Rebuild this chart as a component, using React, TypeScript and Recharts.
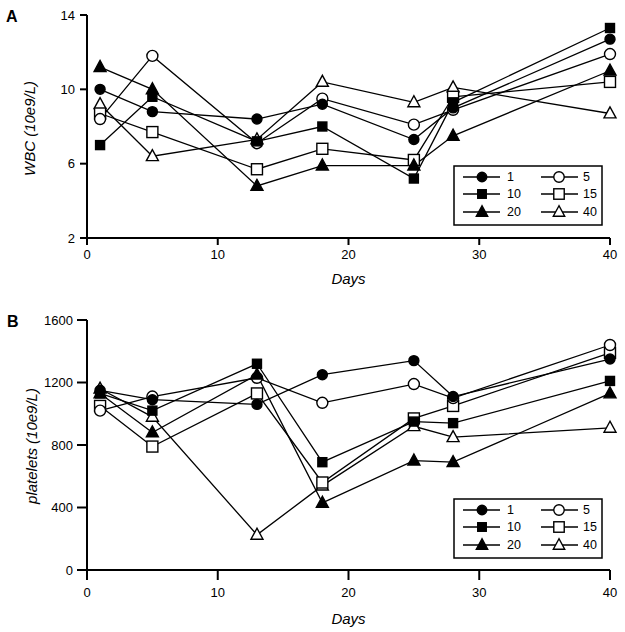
import React from 'react';
import { LineChart, Line, XAxis, YAxis } from 'recharts';

// ---- data ----
const days = [1, 5, 13, 18, 25, 28, 40];
const seriesNames = ['1', '5', '10', '15', '20', '40'];

const wbc1 = [10.0, 8.8, 8.4, 9.2, 7.3, 9.0, 12.7];
const wbc5 = [8.4, 11.8, 7.1, 9.5, 8.1, 8.9, 11.9];
const wbc10 = [7.0, 9.6, 7.2, 8.0, 5.2, 9.3, 13.3];
const wbc15 = [8.7, 7.7, 5.7, 6.8, 6.2, 9.6, 10.4];
const wbc20 = [11.2, 10.0, 4.8, 5.9, 5.9, 7.5, 11.0];
const wbc40 = [9.2, 6.4, 7.3, 10.4, 9.3, 10.1, 8.7];

const plt1 = [1150, 1090, 1060, 1250, 1340, 1110, 1350];
const plt5 = [1020, 1110, 1230, 1070, 1190, 1100, 1440];
const plt10 = [1130, 1020, 1320, 690, 950, 940, 1210];
const plt15 = [1050, 790, 1130, 560, 970, 1050, 1390];
const plt20 = [1130, 880, 1250, 430, 700, 690, 1130];
const plt40 = [1160, 980, 225, 540, 920, 850, 910];

const xTicks = [0, 10, 20, 30, 40];
const wbcTicks = [2, 6, 10, 14];
const pltTicks = [0, 400, 800, 1200, 1600];

const wbcRows = days.map((d, i) => ({
  day: d, s1: wbc1[i], s5: wbc5[i], s10: wbc10[i], s15: wbc15[i], s20: wbc20[i], s40: wbc40[i],
}));
const pltRows = days.map((d, i) => ({
  day: d, s1: plt1[i], s5: plt5[i], s10: plt10[i], s15: plt15[i], s20: plt20[i], s40: plt40[i],
}));

// ---- styles ----
const FONT = '"Liberation Sans", Arial, Helvetica, sans-serif';
const seriesStyle: Record<string, { shape: string; filled: boolean }> = {
  '1': { shape: 'circle', filled: true },
  '5': { shape: 'circle', filled: false },
  '10': { shape: 'square', filled: true },
  '15': { shape: 'square', filled: false },
  '20': { shape: 'triangle', filled: true },
  '40': { shape: 'triangle', filled: false },
};
const drawOrder = ['40', '15', '5', '20', '10', '1'];

function Marker({ cx, cy, shape, filled, scale = 1 }: any) {
  if (cx == null || cy == null) return null;
  const fill = filled ? '#000' : '#fff';
  const sw = 1.4;
  if (shape === 'circle') {
    const r = (filled ? 5 : 5.5) * scale;
    return <circle cx={cx} cy={cy} r={r} fill={fill} stroke="#000" strokeWidth={sw} />;
  }
  if (shape === 'square') {
    const s = (filled ? 9 : 11) * scale;
    return <rect x={cx - s / 2} y={cy - s / 2} width={s} height={s} fill={fill} stroke="#000" strokeWidth={sw} />;
  }
  const w = 12 * scale;
  const h = 11 * scale;
  const pts = `${cx},${cy - h * 0.6} ${cx - w / 2},${cy + h * 0.4} ${cx + w / 2},${cy + h * 0.4}`;
  return <polygon points={pts} fill={fill} stroke="#000" strokeWidth={sw} strokeLinejoin="miter" />;
}

function yLabel(text: string, x: number, dy: number) {
  return {
    content: (props: any) => {
      const vb = props.viewBox || {};
      const cy = vb.y + vb.height / 2 + dy;
      return (
        <text x={x} y={cy} transform={`rotate(-90 ${x} ${cy})`} textAnchor="middle"
          dominantBaseline="central" fontFamily={FONT} fontStyle="italic" fontSize={15} fill="#000"
          style={{ fill: '#000', stroke: 'none' }}>
          {text}
        </text>
      );
    },
  };
}

function xLabel(text: string, dy: number) {
  return {
    content: (props: any) => {
      const vb = props.viewBox || {};
      const cx = vb.x + vb.width / 2;
      return (
        <text x={cx} y={vb.y + dy} textAnchor="middle" dominantBaseline="central"
          fontFamily={FONT} fontStyle="italic" fontSize={15} fill="#000" style={{ fill: '#000' }}>
          {text}
        </text>
      );
    },
  };
}

function Panel({ rows, yDomain, yTicks, yText, top, height, marginTop, tickSize, xTickMargin, yTickMargin, xLabelDy, yLabelX, yLabelDy }: any) {
  return (
    <div style={{ position: 'absolute', left: 0, top }}>
      <LineChart width={625} height={height} data={rows} margin={{ top: marginTop, right: 15, bottom: 22, left: 0 }}>
        <XAxis dataKey="day" type="number" domain={[0, 40]} ticks={xTicks} height={40}
          tickSize={tickSize} tickMargin={xTickMargin}
          axisLine={{ stroke: '#000', strokeWidth: 2 }} tickLine={{ stroke: '#000', strokeWidth: 2 }}
          tick={{ fill: '#000', fontSize: 13, fontFamily: FONT }}
          label={xLabel('Days', xLabelDy)} />
        <YAxis type="number" domain={yDomain} ticks={yTicks} width={87}
          tickSize={tickSize} tickMargin={yTickMargin}
          axisLine={{ stroke: '#000', strokeWidth: 2 }} tickLine={{ stroke: '#000', strokeWidth: 2 }}
          tick={{ fill: '#000', fontSize: 13, fontFamily: FONT }}
          label={yLabel(yText, yLabelX, yLabelDy)} />
        {drawOrder.map((name) => {
          const st = seriesStyle[name];
          return (
            <Line key={name} dataKey={'s' + name} name={name} type="linear" stroke="#000" strokeWidth={1.3}
              isAnimationActive={false}
              dot={(p: any) => <Marker key={`${name}-${p.index}`} cx={p.cx} cy={p.cy} shape={st.shape} filled={st.filled} />} />
          );
        })}
      </LineChart>
    </div>
  );
}

function LegendBox({ x, y }: any) {
  const rowsY = [11, 28, 46];
  const cols = [
    { lx1: 9, lx2: 46, mx: 28, tx: 53 },
    { lx1: 87, lx2: 124, mx: 105, tx: 129 },
  ];
  return (
    <g>
      <rect x={x} y={y} width={148} height={59} fill="#fff" stroke="#000" strokeWidth={1.5} />
      {seriesNames.map((name, i) => {
        const row = Math.floor(i / 2);
        const c = cols[i % 2];
        const cy = y + rowsY[row];
        const st = seriesStyle[name];
        return (
          <g key={name}>
            <line x1={x + c.lx1} x2={x + c.lx2} y1={cy} y2={cy} stroke="#000" strokeWidth={1.3} />
            <Marker cx={x + c.mx} cy={cy} shape={st.shape} filled={st.filled} scale={0.95} />
            <text x={x + c.tx} y={cy} dominantBaseline="central" fontFamily={FONT} fontSize={12.5} fill="#000">{name}</text>
          </g>
        );
      })}
    </g>
  );
}

export default function App() {
  return (
    <div style={{ position: 'absolute', left: 0, top: 0, width: 625, height: 632, background: '#fff', overflow: 'hidden' }}>
      <Panel rows={wbcRows} yDomain={[2, 14]} yTicks={wbcTicks} yText="WBC (10e9/L)" top={0} height={300}
        marginTop={15} tickSize={7} xTickMargin={5} yTickMargin={5} xLabelDy={40} yLabelX={29} yLabelDy={2} />
      <Panel rows={pltRows} yDomain={[0, 1600]} yTicks={pltTicks} yText="platelets (10e9/L)" top={300} height={332}
        marginTop={20} tickSize={10} xTickMargin={8} yTickMargin={4} xLabelDy={48} yLabelX={31} yLabelDy={1} />
      <svg width={625} height={632} style={{ position: 'absolute', left: 0, top: 0, pointerEvents: 'none' }}>
        <text x={6} y={22} fontFamily={FONT} fontWeight="bold" fontSize={16} fill="#000">A</text>
        <text x={7} y={327} fontFamily={FONT} fontWeight="bold" fontSize={16} fill="#000">B</text>
        <LegendBox x={454} y={166} />
        <LegendBox x={454} y={499} />
      </svg>
    </div>
  );
}
